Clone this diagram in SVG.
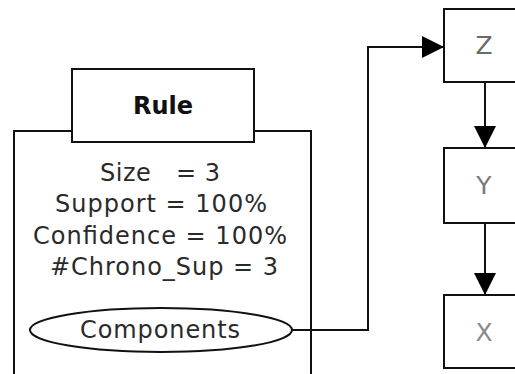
<svg xmlns="http://www.w3.org/2000/svg" width="515" height="374" viewBox="0 0 515 374">
  <style>
    .frame { fill: #ffffff; stroke: #111111; stroke-width: 2; }
    .wire { fill: none; stroke: #111111; stroke-width: 2; }
    .attr { font-family: "DejaVu Sans", sans-serif; font-size: 24px; fill: #2a2a2a; text-anchor: middle; }
    .title { font-family: "DejaVu Sans", sans-serif; font-size: 24px; font-weight: bold; fill: #111111; text-anchor: middle; }
    .item { font-family: "DejaVu Sans", sans-serif; font-size: 25px; text-anchor: middle; }
  </style>
  <defs>
    <marker id="head" viewBox="0 0 22 22" refX="22" refY="11" markerWidth="22" markerHeight="22" markerUnits="userSpaceOnUse" orient="auto">
      <path d="M0,0 L22,11 L0,22 Z" fill="#000000"/>
    </marker>
  </defs>
  <rect width="515" height="374" fill="#ffffff"/>

  <g id="rule">
    <rect class="frame" x="14" y="131" width="297" height="260"/>
    <rect class="frame" x="72" y="69" width="182" height="73"/>
    <text class="title" x="163" y="114">Rule</text>
    <text class="attr" x="160" y="181" textLength="120" xml:space="preserve">Size   = 3</text>
    <text class="attr" x="161" y="212" textLength="212">Support = 100%</text>
    <text class="attr" x="160" y="244" textLength="254">Confidence = 100%</text>
    <text class="attr" x="164" y="275" textLength="228">#Chrono_Sup = 3</text>
  </g>

  <g id="components">
    <ellipse class="frame" cx="161" cy="330" rx="131" ry="22"/>
    <text class="attr" x="160" y="338" textLength="160">Components</text>
  </g>

  <g id="z">
    <rect class="frame" x="444" y="9" width="82" height="73"/>
    <text class="item" x="484" y="54" fill="#6a6a6a">Z</text>
  </g>
  <g id="y">
    <rect class="frame" x="444" y="148" width="82" height="75"/>
    <text class="item" x="484" y="194" fill="#7a7a7a">Y</text>
  </g>
  <g id="x">
    <rect class="frame" x="444" y="295" width="82" height="73"/>
    <text class="item" x="484" y="341" fill="#8a8a8a">X</text>
  </g>

  <g id="connectors">
    <path class="wire" d="M292,330 H368 V47 H444" marker-end="url(#head)"/>
    <path class="wire" d="M485,82 V148" marker-end="url(#head)"/>
    <path class="wire" d="M485,223 V295" marker-end="url(#head)"/>
  </g>
</svg>
